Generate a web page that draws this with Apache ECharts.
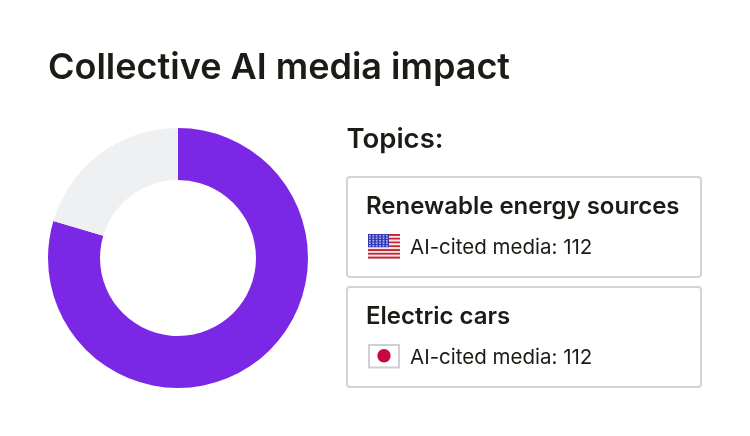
<!DOCTYPE html>
<html><head><meta charset="utf-8">
<style>html,body{margin:0;padding:0;background:#fff}#c{width:750px;height:436px}</style>
<script src="https://cdn.jsdelivr.net/npm/echarts@6/dist/echarts.min.js"></script>
</head><body><div id="c"></div>
<script>
const titleText = 'Collective AI media impact';
const legendTitle = 'Topics:';
const sliceNames = ['AI-cited', 'Other'];
const sliceValues = [79.6, 20.4];
const sliceColors = ['#7b27e6', '#eff0f2'];
const topics = ['Renewable energy sources', 'Electric cars'];
const citedCounts = [112, 112];

const font = 'Inter';
const ink = '#1a1d16';
const cardTops = [177, 287];

function txt(x, y, text, size, weight) {
  return {type:'text', x, y, style:{text, fontFamily:font, fontSize:size, fontWeight:weight, fill:ink, textVerticalAlign:'middle', textBaseline:'middle'}};
}
function rect(x, y, w, h, fill) {
  return {type:'rect', shape:{x, y, width:w, height:h}, style:{fill}};
}
function usFlag(x, y) {
  const w = 32, h = 24.5, out = [];
  const sh = h / 13;
  for (let i = 0; i < 13; i++) out.push(rect(x, y + i * sh, w, sh + 0.1, i % 2 ? '#f3e6e8' : '#c4232f'));
  out.push(rect(x, y, 21, sh * 7, '#3236b8'));
  for (let r = 0; r < 5; r++) for (let c = 0; c < 6; c++) {
    out.push(rect(x + 1 + c * 3.4, y + 0.9 + r * 2.5, 1.8, 1.6, '#a9aee8'));
  }
  return out;
}
function jpFlag(x, y) {
  return [
    {type:'rect', shape:{x:x + 1, y:y + 1, width:30, height:22.5}, style:{fill:'#fff', stroke:'#d0d0d4', lineWidth:2}},
    {type:'circle', shape:{cx:x + 16, cy:y + 11.8, r:6.7}, style:{fill:'#c8073e'}}
  ];
}
const elements = [
  txt(48, 68.5, titleText, 36, 600),
  txt(346.5, 140, legendTitle, 27.5, 600)
];
topics.forEach((t, i) => {
  const top = cardTops[i];
  elements.push({type:'rect', shape:{x:347, y:top, width:354, height:100, r:3}, style:{fill:'#fff', stroke:'#d3d4d9', lineWidth:2}});
  elements.push(txt(366, top + 30, t, 24, 600));
  elements.push(txt(410, top + 71, 'AI-cited media: ' + citedCounts[i], 20.5, 400));
  (i === 0 ? usFlag(368, top + 57) : jpFlag(368, top + 57)).forEach(e => elements.push(e));
});

const chart = echarts.init(document.getElementById('c'), null, {renderer:'canvas'});
chart.setOption({
  animation:false,
  backgroundColor:'#fff',
  graphic:{elements},
  series:[{
    type:'pie',
    center:[178, 258],
    radius:[78, 130],
    startAngle:90,
    clockwise:true,
    silent:true,
    label:{show:false},
    labelLine:{show:false},
    data:sliceNames.map((name, i) => ({name, value:sliceValues[i], itemStyle:{color:sliceColors[i]}}))
  }]
});
</script></body></html>
